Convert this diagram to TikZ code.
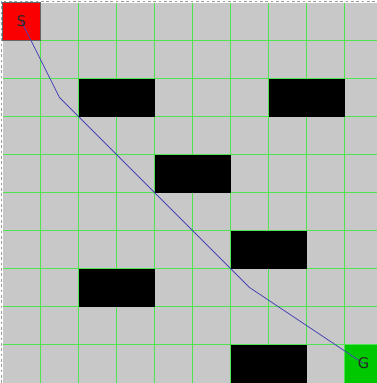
\documentclass[tikz,border=0pt]{standalone}
\usepackage{fontspec}
\setsansfont{DejaVu Sans}
\definecolor{cellgray}{RGB}{200,200,200}
\definecolor{gridgreen}{RGB}{80,228,80}
\definecolor{startred}{RGB}{250,0,0}
\definecolor{goalgreen}{RGB}{0,200,0}
\definecolor{routeblue}{RGB}{70,70,180}
\begin{document}
\begin{tikzpicture}[x=1cm, y=-1cm,
    cell/.style={minimum size=1cm, inner sep=0pt, outer sep=0pt},
    gridline/.style={gridgreen, line width=0.6pt},
    wall/.style={fill=black},
    route/.style={routeblue, line width=0.6pt},
    celltext/.style={font=\sffamily\fontsize{11}{13}\selectfont, text=black!85}]
    \useasboundingbox (-0.066,-0.066) rectangle (9.855,10.013);

    % 背景
    \fill[cellgray] (0,0) rectangle (9.855,10.013);
    \draw[gray!80, line width=0.6pt, dash pattern=on 2pt off 2pt]
        (-0.04,10.013) -- (-0.04,-0.04) -- (9.855,-0.04);

    % 网格
    \foreach \i in {1,...,9} {
        \draw[gridline] (\i,0) -- (\i,10.013);
        \draw[gridline] (0,\i) -- (9.855,\i);
    }

    % 障碍
    \foreach \c/\r in {2/2, 7/2, 4/4, 6/6, 2/7, 6/9}
        \fill[wall] (\c,\r) rectangle ++(2,1);

    % 起点和终点
    \node[cell, fill=startred, draw=black!60, line width=0.4pt] (S) at (0.5,0.5) {};
    \node[cell, fill=goalgreen] (G) at (9.5,9.5) {};

    % 路径
    \coordinate (w1) at (1.5,2.5);
    \coordinate (w2) at (6.5,7.5);
    \draw[route] (S.center) -- (w1) -- (w2) -- (G.center);

    \node[celltext] (Stext) at (S) {S};
    \node[celltext] (Gtext) at (G) {G};

\end{tikzpicture}
\end{document}
